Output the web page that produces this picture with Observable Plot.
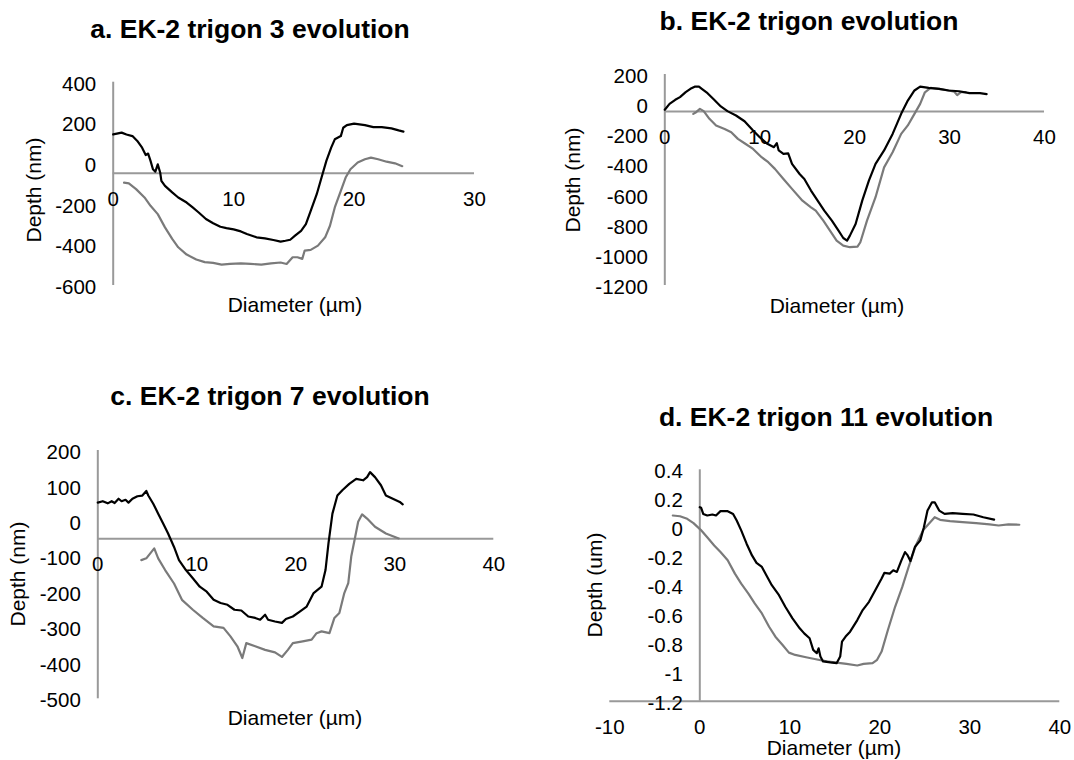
<!DOCTYPE html>
<html>
<head>
<meta charset="utf-8">
<script src="https://cdn.jsdelivr.net/npm/d3@7"></script>
<script src="https://cdn.jsdelivr.net/npm/@observablehq/plot@0.6"></script>
<style>
  html, body { margin: 0; padding: 0; background: #fff; }
  #page { position: relative; width: 1074px; height: 760px; overflow: hidden; font-family: 'Liberation Sans', Arial, Helvetica, sans-serif; color: #000; }
  .panel { position: absolute; line-height: 0; }
  .title { position: absolute; font-weight: bold; font-size: 26.5px; white-space: nowrap; transform: translate(-50%, -50%); }
  .xlabel { position: absolute; font-size: 21px; white-space: nowrap; transform: translate(-50%, -50%); }
  .ylabel { position: absolute; font-size: 21px; white-space: nowrap; transform: translate(-50%, -50%) rotate(-90deg); }
</style>
</head>
<body>
<div id="page"></div>
<script>
// ---------- data (diameter µm, depth) ----------
const titles = ["a. EK-2 trigon 3 evolution", "b. EK-2 trigon evolution", "c. EK-2 trigon 7 evolution", "d. EK-2 trigon 11 evolution"];
const xTitle = "Diameter (µm)";
const yTitles = ["Depth (nm)", "Depth (nm)", "Depth (nm)", "Depth (um)"];

const aXTicks = [0, 10, 20, 30];
const aYTicks = [400, 200, 0, -200, -400, -600];
const aBlack = [[0,143],[0.3,147],[0.7,152],[1.1,143],[1.6,135],[2.0,111],[2.4,78],[2.7,42],[2.9,49],[3.1,13],[3.3,-28],[3.5,-40],[3.7,-4],[3.9,-44],[4.0,-85],[4.3,-110],[4.9,-142],[5.4,-167],[6.1,-192],[6.6,-216],[7.1,-241],[7.7,-273],[8.3,-294],[8.9,-311],[9.4,-318],[10.0,-324],[10.6,-334],[11.1,-347],[11.9,-363],[12.6,-368],[13.3,-376],[13.9,-384],[14.3,-380],[14.7,-375],[15.1,-355],[15.6,-331],[16.0,-298],[16.4,-233],[16.9,-151],[17.3,-69],[17.7,13],[18.1,78],[18.4,119],[18.9,135],[19.1,176],[19.4,189],[20.0,196],[20.9,189],[21.6,179],[22.3,179],[23.1,173],[23.7,163],[24.1,157]];
const aGray = [[0.9,-94],[1.3,-98],[1.9,-126],[2.6,-167],[3.1,-208],[3.7,-249],[4.3,-314],[4.9,-371],[5.4,-412],[6.1,-448],[6.9,-472],[7.6,-485],[8.3,-489],[9.0,-497],[9.7,-494],[10.6,-491],[11.4,-494],[12.3,-497],[13.1,-491],[13.9,-487],[14.4,-494],[14.9,-461],[15.3,-461],[15.7,-469],[15.9,-428],[16.4,-425],[17.0,-404],[17.6,-363],[18.0,-306],[18.4,-216],[18.9,-134],[19.3,-69],[19.7,-28],[20.3,5],[20.9,21],[21.4,29],[22.0,21],[22.7,9],[23.4,1],[24.0,-13]];

const bXTicks = [0, 10, 20, 30, 40];
const bYTicks = [200, 0, -200, -400, -600, -800, -1000, -1200];
const bBlack = [[0,-34],[0.5,5],[1.1,32],[1.6,50],[2.2,83],[2.7,105],[3.2,120],[3.6,120],[3.9,105],[4.5,76],[5.2,32],[5.9,-12],[6.6,-43],[7.5,-72],[8.4,-110],[9.3,-172],[10.0,-216],[10.8,-260],[11.5,-282],[11.8,-256],[12.0,-304],[12.5,-327],[13.0,-323],[13.4,-393],[14.2,-460],[14.7,-493],[15.4,-570],[16.1,-637],[16.8,-703],[17.6,-770],[18.3,-836],[18.8,-885],[19.2,-902],[19.5,-869],[20.1,-792],[20.8,-637],[21.5,-504],[22.2,-393],[23.1,-304],[24.0,-194],[24.9,-61],[25.6,27],[26.3,94],[26.9,120],[27.8,111],[28.9,105],[29.9,94],[31.0,89],[32.1,76],[33.2,76],[33.9,70]];
const bGray = [[3.0,-61],[3.3,-50],[3.7,-28],[4.1,-43],[4.7,-94],[5.4,-138],[6.3,-161],[7.0,-183],[7.7,-227],[8.4,-256],[9.3,-294],[10.2,-349],[10.9,-382],[11.6,-426],[12.5,-493],[13.4,-559],[14.5,-637],[15.4,-681],[15.9,-703],[16.7,-770],[17.4,-836],[18.1,-902],[18.8,-935],[19.5,-946],[20.3,-942],[20.6,-913],[21.3,-770],[22.2,-614],[23.1,-416],[24.0,-316],[24.9,-194],[25.6,-138],[26.3,-61],[26.9,5],[27.4,82],[28.0,111],[28.9,105],[29.9,94],[30.5,86],[30.8,63],[31.2,83],[31.7,83]];

const cXTicks = [0, 10, 20, 30, 40];
const cYTicks = [200, 100, 0, -100, -200, -300, -400, -500];
const cBlack = [[0,53],[0.5,57],[1.0,51],[1.4,57],[1.7,52],[2.1,64],[2.4,57],[2.8,61],[3.1,53],[3.5,64],[4.0,71],[4.5,73],[4.9,86],[5.1,73],[5.6,50],[6.1,22],[6.6,-6],[7.1,-34],[7.7,-72],[8.2,-109],[8.9,-137],[9.6,-160],[10.3,-184],[11.0,-198],[11.7,-221],[12.4,-230],[13.1,-235],[13.8,-249],[14.5,-251],[15.2,-268],[15.9,-272],[16.4,-277],[16.9,-263],[17.2,-277],[17.9,-282],[18.6,-286],[19.0,-275],[19.7,-268],[20.4,-254],[21.1,-240],[21.8,-202],[22.6,-184],[23.0,-137],[23.3,-62],[23.7,22],[24.2,73],[24.7,88],[25.4,106],[26.1,120],[26.8,116],[27.2,125],[27.5,139],[28.0,125],[28.6,102],[29.1,73],[29.8,64],[30.5,55],[30.8,48]];
const cGray = [[4.4,-109],[4.9,-104],[5.7,-76],[6.1,-104],[6.8,-137],[7.7,-175],[8.5,-221],[9.6,-249],[10.6,-272],[11.7,-296],[12.7,-300],[13.4,-324],[14.1,-352],[14.6,-385],[15.0,-343],[15.9,-352],[16.9,-362],[17.9,-369],[18.6,-382],[19.2,-362],[19.7,-343],[20.7,-338],[21.6,-333],[22.1,-315],[22.6,-310],[23.4,-315],[23.9,-272],[24.4,-258],[24.9,-202],[25.3,-174],[25.6,-99],[26.0,-43],[26.3,-1],[26.7,20],[27.2,8],[28.0,-15],[29.1,-34],[30.4,-48]];

const dXTicks = [-10, 0, 10, 20, 30, 40];
const dYTicks = [0.4, 0.2, 0, -0.2, -0.4, -0.6, -0.8, -1, -1.2];
const dBlack = [[0,0.141],[0.15,0.137],[0.38,0.095],[0.83,0.084],[1.4,0.091],[1.8,0.084],[2.3,0.114],[3.1,0.114],[3.7,0.095],[4.1,0.049],[4.6,-0.019],[5.2,-0.111],[5.8,-0.192],[6.3,-0.244],[6.9,-0.272],[7.5,-0.341],[8.0,-0.398],[8.8,-0.467],[9.5,-0.547],[10.3,-0.627],[11.1,-0.696],[11.6,-0.731],[12.2,-0.765],[12.6,-0.845],[13.0,-0.868],[13.2,-0.834],[13.4,-0.891],[13.7,-0.925],[14.5,-0.932],[15.2,-0.937],[15.6,-0.891],[15.8,-0.788],[16.2,-0.753],[16.7,-0.719],[17.5,-0.639],[18.1,-0.570],[18.8,-0.513],[19.6,-0.421],[20.2,-0.352],[20.5,-0.313],[21.1,-0.318],[21.5,-0.295],[21.9,-0.306],[22.4,-0.226],[22.8,-0.169],[23.1,-0.192],[23.4,-0.231],[23.9,-0.134],[24.5,-0.088],[24.9,0.003],[25.3,0.118],[25.8,0.175],[26.1,0.175],[26.6,0.118],[27.2,0.095],[28.1,0.100],[29.2,0.095],[30.4,0.091],[31.5,0.072],[32.7,0.056]];
const dGray = [[-3.0,0.084],[-2.2,0.079],[-1.4,0.061],[-0.7,0.031],[0.1,-0.015],[0.8,-0.065],[1.6,-0.123],[2.3,-0.169],[3.1,-0.226],[3.9,-0.318],[4.6,-0.387],[5.4,-0.456],[6.1,-0.524],[6.9,-0.593],[7.7,-0.685],[8.4,-0.754],[9.2,-0.811],[9.9,-0.864],[10.6,-0.880],[11.8,-0.896],[12.9,-0.910],[14.1,-0.925],[15.2,-0.933],[16.3,-0.942],[17.5,-0.953],[18.2,-0.942],[19.2,-0.937],[19.7,-0.914],[20.2,-0.857],[20.9,-0.708],[21.7,-0.547],[22.5,-0.410],[23.2,-0.272],[24.0,-0.123],[24.8,-0.019],[25.6,0.038],[26.1,0.072],[26.7,0.054],[27.8,0.045],[29.2,0.038],[30.7,0.031],[32.2,0.022],[33.2,0.015],[34.3,0.022],[35.5,0.020]];

// value where the horizontal axis line crosses the vertical axis, per panel
const axisCross = [-47.7, -46, -48.9, -1.2];

// ---------- drawing ----------
const page = document.getElementById("page");
const FONT = "'Liberation Sans', Arial, Helvetica, sans-serif";
const AXIS_COLOR = "#999999";

function addText(cls, text, x, y) {
  const el = document.createElement("div");
  el.className = cls;
  el.textContent = text;
  el.style.left = x + "px";
  el.style.top = y + "px";
  page.appendChild(el);
}

function panel(cfg) {
  const [x0, x1] = cfg.xDomain;
  const [y0, y1] = cfg.yDomain;
  const chart = Plot.plot({
    width: cfg.width, height: cfg.height,
    marginLeft: cfg.ml, marginRight: cfg.mr, marginTop: cfg.mt, marginBottom: cfg.mb,
    x: {domain: cfg.xDomain, axis: null},
    y: {domain: cfg.yDomain, axis: null},
    style: {fontFamily: FONT, fontSize: "20.5px", background: "none", overflow: "visible", color: "#000"},
    marks: [
      // vertical axis line at x = 0
      Plot.ruleX([0], {y1: () => y0, y2: () => y1, stroke: AXIS_COLOR, strokeWidth: 2}),
      // horizontal axis line across the whole x domain
      Plot.ruleY([cfg.cross], {x1: () => x0, x2: () => x1, stroke: AXIS_COLOR, strokeWidth: 2}),
      Plot.line(cfg.gray, {x: d => d[0], y: d => d[1], stroke: "#7a7a7a", strokeWidth: 2.2}),
      Plot.line(cfg.black, {x: d => d[0], y: d => d[1], stroke: "#000", strokeWidth: 2.2}),
      // vertical-axis tick labels, right-aligned next to the axis line at x = 0
      Plot.text(cfg.yTicks, {x: () => 0, y: d => d, dx: -17, dy: 2, textAnchor: "end", text: d => String(d), fill: "#000", fontSize: 20.5}),
      // horizontal-axis tick labels, below the horizontal axis line
      Plot.text(cfg.xTicks, {x: d => d, y: () => cfg.cross, dy: 26, text: d => String(d), fill: "#000", fontSize: 20.5})
    ]
  });
  const wrap = document.createElement("div");
  wrap.className = "panel";
  wrap.style.left = cfg.left + "px";
  wrap.style.top = cfg.top + "px";
  wrap.appendChild(chart);
  page.appendChild(wrap);
}

panel({left: 0, top: 0, width: 537, height: 380, ml: 112.7, mr: 63, mt: 81.7, mb: 95,
  xDomain: [0, 30], yDomain: [-600, 400], xTicks: aXTicks, yTicks: aYTicks, cross: axisCross[0], black: aBlack, gray: aGray});
panel({left: 537, top: 0, width: 537, height: 380, ml: 127.3, mr: 30, mt: 74, mb: 95,
  xDomain: [0, 40], yDomain: [-1200, 200], xTicks: bXTicks, yTicks: bYTicks, cross: axisCross[1], black: bBlack, gray: bGray});
panel({left: 0, top: 380, width: 537, height: 380, ml: 97.3, mr: 43.7, mt: 70, mb: 61.7,
  xDomain: [0, 40], yDomain: [-500, 200], xTicks: cXTicks, yTicks: cYTicks, cross: axisCross[2], black: cBlack, gray: cGray});
panel({left: 537, top: 380, width: 537, height: 380, ml: 72.3, mr: 14.7, mt: 89.3, mb: 59.3,
  xDomain: [-10, 40], yDomain: [-1.2, 0.4], xTicks: dXTicks, yTicks: dYTicks, cross: axisCross[3], black: dBlack, gray: dGray});

addText("title", titles[0], 250, 29);
addText("title", titles[1], 809, 21);
addText("title", titles[2], 270, 396);
addText("title", titles[3], 826, 417);

addText("xlabel", xTitle, 295, 305);
addText("xlabel", xTitle, 837, 306);
addText("xlabel", xTitle, 295, 718);
addText("xlabel", xTitle, 834, 748);

addText("ylabel", yTitles[0], 34, 190);
addText("ylabel", yTitles[1], 573, 180);
addText("ylabel", yTitles[2], 18, 574);
addText("ylabel", yTitles[3], 595, 585);
</script>
</body>
</html>
